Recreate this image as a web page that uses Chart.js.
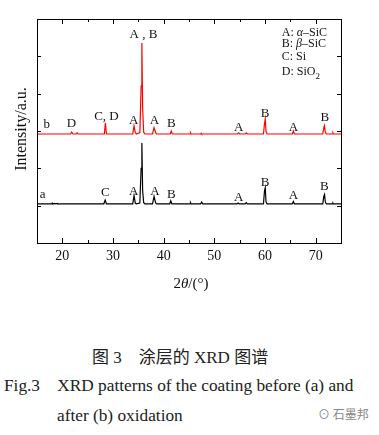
<!DOCTYPE html>
<html>
<head>
<meta charset="utf-8">
<script src="https://cdn.jsdelivr.net/npm/chart.js@4.4.1/dist/chart.umd.min.js"></script>
<style>
  html, body { margin:0; padding:0; background:#fff; }
  #wrap { position:relative; width:379px; height:435px; overflow:hidden; }
  canvas { position:absolute; left:0; top:0; }
  .cap { position:absolute; white-space:pre; color:#222; font-family:"Liberation Serif","DejaVu Serif",serif; }
</style>
</head>
<body>
<div id="wrap">
  <canvas id="c" width="379" height="300"></canvas>
  <div class="cap" id="cap1" style="left:92px; top:343px; font-size:17px;"><span style="font-family:'Noto Sans CJK SC';">图</span> 3<span style="font-family:'Noto Sans CJK SC';">　涂层的</span> XRD <span style="font-family:'Noto Sans CJK SC';">图谱</span></div>
  <div class="cap" style="left:4px; top:376px; font-size:17.3px;">Fig.3    XRD patterns of the coating before (a) and</div>
  <div class="cap" style="left:57px; top:406px; font-size:17.3px;">after (b) oxidation</div>
  <div class="cap" style="left:318px; top:405px; font-size:12px; color:#888; font-family:'Noto Sans CJK SC';">⊙ 石墨邦</div>
</div>
<script>
// ---- data ----
const twoThetaA = [15,17.9,18.0,18.1,18.5,18.6,19.0,19.1,28.2,28.45,28.7,33.9,34.15,34.4,34.6,35.3,35.55,35.7,35.85,36.05,36.3,37.8,38.1,38.4,38.6,41.2,41.4,41.6,45.2,45.3,45.4,47.3,47.5,47.7,54.5,54.7,54.9,56.1,56.3,56.5,59.7,59.9,60.05,60.2,60.4,65.4,65.6,65.8,71.4,71.6,71.75,71.9,72.1,73.3,73.4,73.5,75];
const intensityA = [1.05,1.05,1.07,1.05,1.06,1.05,1.06,1.05,1.05,1.15,1.05,1.05,1.27,1.07,1.05,1.07,2.0,2.68,1.4,1.08,1.05,1.05,1.25,1.08,1.05,1.05,1.13,1.05,1.05,1.08,1.05,1.05,1.1,1.05,1.05,1.07,1.05,1.05,1.08,1.05,1.05,1.4,1.48,1.1,1.05,1.05,1.11,1.05,1.05,1.25,1.3,1.1,1.05,1.05,1.07,1.05,1.05];
const twoThetaB = [15,21.6,21.85,22.1,22.7,22.9,23.1,28.3,28.5,28.7,33.9,34.15,34.4,34.6,35.3,35.55,35.7,35.85,36.05,36.3,37.8,38.1,38.4,38.6,41.3,41.5,41.7,45.2,45.3,45.4,47.3,47.4,47.5,54.6,54.8,55.0,56.1,56.3,56.5,59.7,59.9,60.05,60.2,60.4,65.4,65.6,65.8,71.4,71.6,71.75,71.9,72.1,73.3,73.4,73.5,75];
const intensityB = [2.92,2.92,2.97,2.92,2.92,2.95,2.92,2.92,3.22,2.92,2.92,3.14,2.96,2.92,2.96,4.2,5.36,3.6,2.97,2.92,2.92,3.09,2.96,2.92,2.92,3.0,2.92,2.92,2.95,2.92,2.92,2.94,2.92,2.92,2.95,2.92,2.92,2.95,2.92,2.92,3.2,3.32,2.99,2.92,2.92,3.0,2.92,2.92,3.08,3.14,2.97,2.92,2.92,2.95,2.92,2.92];

const xMajorTicks = [20,30,40,50,60,70];
const xMinorTicks = [25,35,45,55,65];
const yTicks = [1,2,3,4,5];

// peak labels: text, 2θ position, height (axis units)
const labelsB = ["b","D","C, D","A","A , B","A","B","A","B","A","B"];
const labelXB = [16.9,21.8,28.7,34.1,36.0,38.2,41.5,54.8,60.0,65.6,71.8];
const labelYB = [3.16,3.19,3.38,3.27,5.57,3.27,3.19,3.08,3.46,3.08,3.35];
const labelsA = ["a","C","A","A","B","A","B","A","B"];
const labelXA = [16.1,28.5,34.1,38.3,41.5,54.8,60.0,65.6,71.7];
const labelYA = [1.29,1.34,1.39,1.39,1.31,1.21,1.63,1.26,1.5];

// phase key: [plain, italic, plain]
const keyParts = [["A: ","α","–SiC"],["B: ","β","–SiC"],["C: Si","",""],["D: SiO","",""]];
const keyY = [5.63,5.33,4.98,4.58];
const keyX = 63.3;

const SERIF = '"Liberation Serif","DejaVu Serif",serif';

const deco = {
  id:'deco',
  afterDraw(chart){
    const ctx = chart.ctx, xs = chart.scales.x, ys = chart.scales.y, a = chart.chartArea;
    ctx.save();
    ctx.strokeStyle = '#000'; ctx.lineWidth = 1;
    // frame
    ctx.strokeRect(Math.round(a.left)+0.5, Math.round(a.top)+0.5, Math.round(a.right-a.left), Math.round(a.bottom-a.top));
    ctx.beginPath();
    const tick = (v, len) => {
      const px = Math.round(xs.getPixelForValue(v))+0.5;
      ctx.moveTo(px, a.bottom); ctx.lineTo(px, a.bottom-len);
      ctx.moveTo(px, a.top); ctx.lineTo(px, a.top+len);
    };
    xMajorTicks.forEach(v=>tick(v,5));
    xMinorTicks.forEach(v=>tick(v,3));
    yTicks.forEach(v=>{
      const py = Math.round(ys.getPixelForValue(v))+0.5;
      ctx.moveTo(a.left, py); ctx.lineTo(a.left+4, py);
      ctx.moveTo(a.right, py); ctx.lineTo(a.right-4, py);
    });
    ctx.stroke();

    // axis titles
    ctx.fillStyle = '#111';
    ctx.textBaseline = 'middle';
    ctx.save();
    ctx.translate(22, (a.top+a.bottom)/2 - 2);
    ctx.rotate(-Math.PI/2);
    ctx.font = '16px '+SERIF; ctx.textAlign='center';
    ctx.fillText('Intensity/a.u.', 0, 0);
    ctx.restore();
    // x title 2θ/(°)
    {
      const parts = [['2','normal'],['θ','italic'],['/(°)','normal']];
      let w = 0;
      parts.forEach(p=>{ctx.font=p[1]+' 15px '+SERIF; w+=ctx.measureText(p[0]).width;});
      let x = (a.left+a.right)/2 - w/2 + 2;
      ctx.textAlign='left';
      parts.forEach(p=>{ctx.font=p[1]+' 15px '+SERIF; ctx.fillText(p[0], x, 284); x+=ctx.measureText(p[0]).width;});
    }
    // peak labels
    ctx.font = '13px '+SERIF; ctx.textAlign='center'; ctx.fillStyle='#111';
    labelsB.forEach((t,i)=>ctx.fillText(t, xs.getPixelForValue(labelXB[i]), ys.getPixelForValue(labelYB[i])));
    labelsA.forEach((t,i)=>ctx.fillText(t, xs.getPixelForValue(labelXA[i]), ys.getPixelForValue(labelYA[i])));
    // key
    ctx.textAlign='left';
    keyParts.forEach((p,i)=>{
      let x = xs.getPixelForValue(keyX), y = ys.getPixelForValue(keyY[i]);
      ctx.font='12px '+SERIF; ctx.fillText(p[0], x, y); x+=ctx.measureText(p[0]).width;
      if(p[1]){ctx.font='italic 12px '+SERIF; ctx.fillText(p[1], x, y); x+=ctx.measureText(p[1]).width;}
      if(p[2]){ctx.font='12px '+SERIF; ctx.fillText(p[2], x, y); x+=ctx.measureText(p[2]).width;}
      if(i===3){ctx.font='9px '+SERIF; ctx.fillText('2', x, y+5);}
    });
    ctx.restore();
  }
};

new Chart(document.getElementById('c'), {
  type:'line',
  data:{
    datasets:[
      {label:'a', data: twoThetaA.map((x,i)=>({x, y:intensityA[i]})), borderColor:'#000', borderWidth:1.2, pointRadius:0, tension:0},
      {label:'b', data: twoThetaB.map((x,i)=>({x, y:intensityB[i]})), borderColor:'#ff0000', borderWidth:1.2, pointRadius:0, tension:0}
    ]
  },
  options:{
    responsive:false, animation:false, devicePixelRatio:1,
    layout:{padding:{top:19, right:38, left:0, bottom:0}},
    plugins:{legend:{display:false}, tooltip:{enabled:false}},
    scales:{
      x:{type:'linear', min:15, max:75,
         grid:{display:false, drawTicks:false}, border:{display:false},
         ticks:{stepSize:10, padding:5, color:'#111', font:{family:SERIF, size:14},
                callback:(v)=> xMajorTicks.includes(v) ? String(v) : ''},
         afterBuildTicks:(s)=>{ s.ticks = xMajorTicks.map(v=>({value:v})); },
         afterFit:(s)=>{ s.height = 57; }},
      y:{min:0, max:6, grid:{display:false, drawTicks:false}, border:{display:false},
         ticks:{display:false},
         afterFit:(s)=>{ s.width = 37; }}
    }
  },
  plugins:[deco]
});
</script>
</body>
</html>
